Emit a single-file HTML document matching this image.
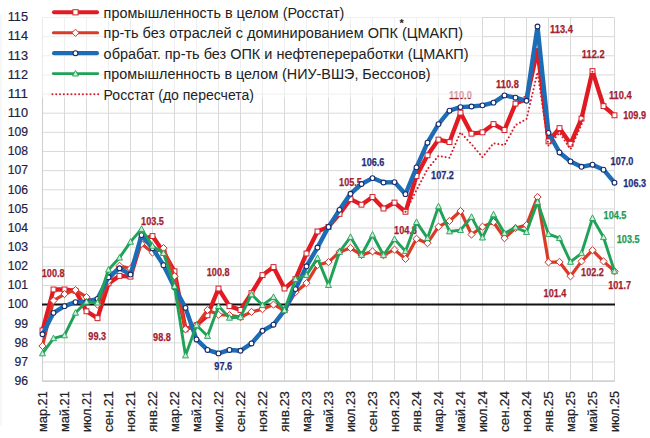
<!DOCTYPE html>
<html><head><meta charset="utf-8"><title>chart</title>
<style>html,body{margin:0;padding:0;background:#fff;}body{width:650px;height:438px;overflow:hidden;position:relative;font-family:"Liberation Sans",sans-serif;}</style></head>
<body>
<svg width="650" height="438" viewBox="0 0 650 438" style="position:absolute;left:0;top:0;font-family:'Liberation Sans',sans-serif">
<rect width="650" height="438" fill="#fff"/>
<path d="M42.5 381.16H614.5M42.5 362.02H614.5M42.5 342.88H614.5M42.5 323.74H614.5M42.5 304.60H614.5M42.5 285.46H614.5M42.5 266.32H614.5M42.5 247.18H614.5M42.5 228.04H614.5M42.5 208.90H614.5M42.5 189.76H614.5M42.5 170.62H614.5M42.5 151.48H614.5M42.5 132.34H614.5M42.5 113.20H614.5M42.5 94.06H614.5M42.5 74.92H614.5M42.5 55.78H614.5M42.5 36.64H614.5M42.5 17.50H614.5M42.50 17.50V381.16M64.50 17.50V381.16M86.50 17.50V381.16M108.50 17.50V381.16M130.50 17.50V381.16M152.50 17.50V381.16M174.50 17.50V381.16M196.50 17.50V381.16M218.50 17.50V381.16M240.50 17.50V381.16M262.50 17.50V381.16M284.50 17.50V381.16M306.50 17.50V381.16M328.50 17.50V381.16M350.50 17.50V381.16M372.50 17.50V381.16M394.50 17.50V381.16M416.50 17.50V381.16M438.50 17.50V381.16M460.50 17.50V381.16M482.50 17.50V381.16M504.50 17.50V381.16M526.50 17.50V381.16M548.50 17.50V381.16M570.50 17.50V381.16M592.50 17.50V381.16M614.50 17.50V381.16" stroke="#d9d9d9" stroke-width="1" fill="none"/>
<path d="M42.5 381.16H614.5" stroke="#c9c9c9" stroke-width="1.3" fill="none"/>
<path d="M42.5 17.50V381.16" stroke="#cfcfcf" stroke-width="1.1" fill="none"/>
<path d="M1 15V426" stroke="#efefef" stroke-width="1" fill="none"/>
<path d="M42.0 304.60H615.0" stroke="#111" stroke-width="2" fill="none"/>
<text x="28" y="384.96" text-anchor="end" font-size="13.3" fill="#1c2148" stroke="#1c2148" stroke-width="0.2" textLength="13.6" lengthAdjust="spacingAndGlyphs">96</text>
<text x="28" y="365.82" text-anchor="end" font-size="13.3" fill="#1c2148" stroke="#1c2148" stroke-width="0.2" textLength="13.6" lengthAdjust="spacingAndGlyphs">97</text>
<text x="28" y="346.68" text-anchor="end" font-size="13.3" fill="#1c2148" stroke="#1c2148" stroke-width="0.2" textLength="13.6" lengthAdjust="spacingAndGlyphs">98</text>
<text x="28" y="327.54" text-anchor="end" font-size="13.3" fill="#1c2148" stroke="#1c2148" stroke-width="0.2" textLength="13.6" lengthAdjust="spacingAndGlyphs">99</text>
<text x="28" y="308.40" text-anchor="end" font-size="13.3" fill="#1c2148" stroke="#1c2148" stroke-width="0.2" textLength="20.3" lengthAdjust="spacingAndGlyphs">100</text>
<text x="28" y="289.26" text-anchor="end" font-size="13.3" fill="#1c2148" stroke="#1c2148" stroke-width="0.2" textLength="20.3" lengthAdjust="spacingAndGlyphs">101</text>
<text x="28" y="270.12" text-anchor="end" font-size="13.3" fill="#1c2148" stroke="#1c2148" stroke-width="0.2" textLength="20.3" lengthAdjust="spacingAndGlyphs">102</text>
<text x="28" y="250.98" text-anchor="end" font-size="13.3" fill="#1c2148" stroke="#1c2148" stroke-width="0.2" textLength="20.3" lengthAdjust="spacingAndGlyphs">103</text>
<text x="28" y="231.84" text-anchor="end" font-size="13.3" fill="#1c2148" stroke="#1c2148" stroke-width="0.2" textLength="20.3" lengthAdjust="spacingAndGlyphs">104</text>
<text x="28" y="212.70" text-anchor="end" font-size="13.3" fill="#1c2148" stroke="#1c2148" stroke-width="0.2" textLength="20.3" lengthAdjust="spacingAndGlyphs">105</text>
<text x="28" y="193.56" text-anchor="end" font-size="13.3" fill="#1c2148" stroke="#1c2148" stroke-width="0.2" textLength="20.3" lengthAdjust="spacingAndGlyphs">106</text>
<text x="28" y="174.42" text-anchor="end" font-size="13.3" fill="#1c2148" stroke="#1c2148" stroke-width="0.2" textLength="20.3" lengthAdjust="spacingAndGlyphs">107</text>
<text x="28" y="155.28" text-anchor="end" font-size="13.3" fill="#1c2148" stroke="#1c2148" stroke-width="0.2" textLength="20.3" lengthAdjust="spacingAndGlyphs">108</text>
<text x="28" y="136.14" text-anchor="end" font-size="13.3" fill="#1c2148" stroke="#1c2148" stroke-width="0.2" textLength="20.3" lengthAdjust="spacingAndGlyphs">109</text>
<text x="28" y="117.00" text-anchor="end" font-size="13.3" fill="#1c2148" stroke="#1c2148" stroke-width="0.2" textLength="20.3" lengthAdjust="spacingAndGlyphs">110</text>
<text x="28" y="97.86" text-anchor="end" font-size="13.3" fill="#1c2148" stroke="#1c2148" stroke-width="0.2" textLength="20.3" lengthAdjust="spacingAndGlyphs">111</text>
<text x="28" y="78.72" text-anchor="end" font-size="13.3" fill="#1c2148" stroke="#1c2148" stroke-width="0.2" textLength="20.3" lengthAdjust="spacingAndGlyphs">112</text>
<text x="28" y="59.58" text-anchor="end" font-size="13.3" fill="#1c2148" stroke="#1c2148" stroke-width="0.2" textLength="20.3" lengthAdjust="spacingAndGlyphs">113</text>
<text x="28" y="40.44" text-anchor="end" font-size="13.3" fill="#1c2148" stroke="#1c2148" stroke-width="0.2" textLength="20.3" lengthAdjust="spacingAndGlyphs">114</text>
<text x="28" y="21.30" text-anchor="end" font-size="13.3" fill="#1c2148" stroke="#1c2148" stroke-width="0.2" textLength="20.3" lengthAdjust="spacingAndGlyphs">115</text>
<text transform="translate(47.10 432.1) rotate(-90)" font-size="12.6" fill="#222" stroke="#222" stroke-width="0.2" textLength="41" lengthAdjust="spacingAndGlyphs">мар.21</text>
<text transform="translate(69.10 432.1) rotate(-90)" font-size="12.6" fill="#222" stroke="#222" stroke-width="0.2" textLength="41" lengthAdjust="spacingAndGlyphs">май.21</text>
<text transform="translate(91.10 432.1) rotate(-90)" font-size="12.6" fill="#222" stroke="#222" stroke-width="0.2" textLength="41" lengthAdjust="spacingAndGlyphs">июл.21</text>
<text transform="translate(113.10 432.1) rotate(-90)" font-size="12.6" fill="#222" stroke="#222" stroke-width="0.2" textLength="41" lengthAdjust="spacingAndGlyphs">сен.21</text>
<text transform="translate(135.10 432.1) rotate(-90)" font-size="12.6" fill="#222" stroke="#222" stroke-width="0.2" textLength="41" lengthAdjust="spacingAndGlyphs">ноя.21</text>
<text transform="translate(157.10 432.1) rotate(-90)" font-size="12.6" fill="#222" stroke="#222" stroke-width="0.2" textLength="41" lengthAdjust="spacingAndGlyphs">янв.22</text>
<text transform="translate(179.10 432.1) rotate(-90)" font-size="12.6" fill="#222" stroke="#222" stroke-width="0.2" textLength="41" lengthAdjust="spacingAndGlyphs">мар.22</text>
<text transform="translate(201.10 432.1) rotate(-90)" font-size="12.6" fill="#222" stroke="#222" stroke-width="0.2" textLength="41" lengthAdjust="spacingAndGlyphs">май.22</text>
<text transform="translate(223.10 432.1) rotate(-90)" font-size="12.6" fill="#222" stroke="#222" stroke-width="0.2" textLength="41" lengthAdjust="spacingAndGlyphs">июл.22</text>
<text transform="translate(245.10 432.1) rotate(-90)" font-size="12.6" fill="#222" stroke="#222" stroke-width="0.2" textLength="41" lengthAdjust="spacingAndGlyphs">сен.22</text>
<text transform="translate(267.10 432.1) rotate(-90)" font-size="12.6" fill="#222" stroke="#222" stroke-width="0.2" textLength="41" lengthAdjust="spacingAndGlyphs">ноя.22</text>
<text transform="translate(289.10 432.1) rotate(-90)" font-size="12.6" fill="#222" stroke="#222" stroke-width="0.2" textLength="41" lengthAdjust="spacingAndGlyphs">янв.23</text>
<text transform="translate(311.10 432.1) rotate(-90)" font-size="12.6" fill="#222" stroke="#222" stroke-width="0.2" textLength="41" lengthAdjust="spacingAndGlyphs">мар.23</text>
<text transform="translate(333.10 432.1) rotate(-90)" font-size="12.6" fill="#222" stroke="#222" stroke-width="0.2" textLength="41" lengthAdjust="spacingAndGlyphs">май.23</text>
<text transform="translate(355.10 432.1) rotate(-90)" font-size="12.6" fill="#222" stroke="#222" stroke-width="0.2" textLength="41" lengthAdjust="spacingAndGlyphs">июл.23</text>
<text transform="translate(377.10 432.1) rotate(-90)" font-size="12.6" fill="#222" stroke="#222" stroke-width="0.2" textLength="41" lengthAdjust="spacingAndGlyphs">сен.23</text>
<text transform="translate(399.10 432.1) rotate(-90)" font-size="12.6" fill="#222" stroke="#222" stroke-width="0.2" textLength="41" lengthAdjust="spacingAndGlyphs">ноя.23</text>
<text transform="translate(421.10 432.1) rotate(-90)" font-size="12.6" fill="#222" stroke="#222" stroke-width="0.2" textLength="41" lengthAdjust="spacingAndGlyphs">янв.24</text>
<text transform="translate(443.10 432.1) rotate(-90)" font-size="12.6" fill="#222" stroke="#222" stroke-width="0.2" textLength="41" lengthAdjust="spacingAndGlyphs">мар.24</text>
<text transform="translate(465.10 432.1) rotate(-90)" font-size="12.6" fill="#222" stroke="#222" stroke-width="0.2" textLength="41" lengthAdjust="spacingAndGlyphs">май.24</text>
<text transform="translate(487.10 432.1) rotate(-90)" font-size="12.6" fill="#222" stroke="#222" stroke-width="0.2" textLength="41" lengthAdjust="spacingAndGlyphs">июл.24</text>
<text transform="translate(509.10 432.1) rotate(-90)" font-size="12.6" fill="#222" stroke="#222" stroke-width="0.2" textLength="41" lengthAdjust="spacingAndGlyphs">сен.24</text>
<text transform="translate(531.10 432.1) rotate(-90)" font-size="12.6" fill="#222" stroke="#222" stroke-width="0.2" textLength="41" lengthAdjust="spacingAndGlyphs">ноя.24</text>
<text transform="translate(553.10 432.1) rotate(-90)" font-size="12.6" fill="#222" stroke="#222" stroke-width="0.2" textLength="41" lengthAdjust="spacingAndGlyphs">янв.25</text>
<text transform="translate(575.10 432.1) rotate(-90)" font-size="12.6" fill="#222" stroke="#222" stroke-width="0.2" textLength="41" lengthAdjust="spacingAndGlyphs">мар.25</text>
<text transform="translate(597.10 432.1) rotate(-90)" font-size="12.6" fill="#222" stroke="#222" stroke-width="0.2" textLength="41" lengthAdjust="spacingAndGlyphs">май.25</text>
<text transform="translate(619.10 432.1) rotate(-90)" font-size="12.6" fill="#222" stroke="#222" stroke-width="0.2" textLength="41" lengthAdjust="spacingAndGlyphs">июл.25</text>
<polyline points="42.50,330.44 53.50,289.48 64.50,289.48 75.50,290.82 86.50,311.30 97.50,318.19 108.50,283.35 119.50,275.89 130.50,276.66 141.50,240.10 152.50,236.08 163.50,252.16 174.50,271.30 185.50,329.29 196.50,325.27 207.50,315.32 218.50,288.52 229.50,306.13 240.50,309.96 251.50,293.12 262.50,275.12 273.50,267.09 284.50,288.52 295.50,279.14 306.50,253.50 317.50,231.49 328.50,226.89 339.50,213.88 350.50,199.14 361.50,204.69 372.50,197.03 383.50,208.52 394.50,202.58 405.50,211.77 416.50,175.98 427.50,155.31 438.50,139.61 449.50,142.10 460.50,112.63 471.50,133.68 482.50,132.34 493.50,124.11 504.50,130.04 515.50,103.63 526.50,99.04 537.50,50.04 548.50,141.34 559.50,128.13 570.50,143.82 581.50,118.56 592.50,71.09 603.50,106.12 614.50,115.31" fill="none" stroke="#e21a22" stroke-width="4.3" stroke-linejoin="round" stroke-linecap="round"/>
<rect x="40.05" y="327.99" width="4.9" height="4.9" fill="#fff" stroke="#d0202a" stroke-width="1"/>
<rect x="51.05" y="287.03" width="4.9" height="4.9" fill="#fff" stroke="#d0202a" stroke-width="1"/>
<rect x="62.05" y="287.03" width="4.9" height="4.9" fill="#fff" stroke="#d0202a" stroke-width="1"/>
<rect x="73.05" y="288.37" width="4.9" height="4.9" fill="#fff" stroke="#d0202a" stroke-width="1"/>
<rect x="84.05" y="308.85" width="4.9" height="4.9" fill="#fff" stroke="#d0202a" stroke-width="1"/>
<rect x="95.05" y="315.74" width="4.9" height="4.9" fill="#fff" stroke="#d0202a" stroke-width="1"/>
<rect x="106.05" y="280.90" width="4.9" height="4.9" fill="#fff" stroke="#d0202a" stroke-width="1"/>
<rect x="117.05" y="273.44" width="4.9" height="4.9" fill="#fff" stroke="#d0202a" stroke-width="1"/>
<rect x="128.05" y="274.21" width="4.9" height="4.9" fill="#fff" stroke="#d0202a" stroke-width="1"/>
<rect x="139.05" y="237.65" width="4.9" height="4.9" fill="#fff" stroke="#d0202a" stroke-width="1"/>
<rect x="150.05" y="233.63" width="4.9" height="4.9" fill="#fff" stroke="#d0202a" stroke-width="1"/>
<rect x="161.05" y="249.71" width="4.9" height="4.9" fill="#fff" stroke="#d0202a" stroke-width="1"/>
<rect x="172.05" y="268.85" width="4.9" height="4.9" fill="#fff" stroke="#d0202a" stroke-width="1"/>
<rect x="183.05" y="326.84" width="4.9" height="4.9" fill="#fff" stroke="#d0202a" stroke-width="1"/>
<rect x="194.05" y="322.82" width="4.9" height="4.9" fill="#fff" stroke="#d0202a" stroke-width="1"/>
<rect x="205.05" y="312.87" width="4.9" height="4.9" fill="#fff" stroke="#d0202a" stroke-width="1"/>
<rect x="216.05" y="286.07" width="4.9" height="4.9" fill="#fff" stroke="#d0202a" stroke-width="1"/>
<rect x="227.05" y="303.68" width="4.9" height="4.9" fill="#fff" stroke="#d0202a" stroke-width="1"/>
<rect x="238.05" y="307.51" width="4.9" height="4.9" fill="#fff" stroke="#d0202a" stroke-width="1"/>
<rect x="249.05" y="290.67" width="4.9" height="4.9" fill="#fff" stroke="#d0202a" stroke-width="1"/>
<rect x="260.05" y="272.67" width="4.9" height="4.9" fill="#fff" stroke="#d0202a" stroke-width="1"/>
<rect x="271.05" y="264.64" width="4.9" height="4.9" fill="#fff" stroke="#d0202a" stroke-width="1"/>
<rect x="282.05" y="286.07" width="4.9" height="4.9" fill="#fff" stroke="#d0202a" stroke-width="1"/>
<rect x="293.05" y="276.69" width="4.9" height="4.9" fill="#fff" stroke="#d0202a" stroke-width="1"/>
<rect x="304.05" y="251.05" width="4.9" height="4.9" fill="#fff" stroke="#d0202a" stroke-width="1"/>
<rect x="315.05" y="229.04" width="4.9" height="4.9" fill="#fff" stroke="#d0202a" stroke-width="1"/>
<rect x="326.05" y="224.44" width="4.9" height="4.9" fill="#fff" stroke="#d0202a" stroke-width="1"/>
<rect x="337.05" y="211.43" width="4.9" height="4.9" fill="#fff" stroke="#d0202a" stroke-width="1"/>
<rect x="348.05" y="196.69" width="4.9" height="4.9" fill="#fff" stroke="#d0202a" stroke-width="1"/>
<rect x="359.05" y="202.24" width="4.9" height="4.9" fill="#fff" stroke="#d0202a" stroke-width="1"/>
<rect x="370.05" y="194.58" width="4.9" height="4.9" fill="#fff" stroke="#d0202a" stroke-width="1"/>
<rect x="381.05" y="206.07" width="4.9" height="4.9" fill="#fff" stroke="#d0202a" stroke-width="1"/>
<rect x="392.05" y="200.13" width="4.9" height="4.9" fill="#fff" stroke="#d0202a" stroke-width="1"/>
<rect x="403.05" y="209.32" width="4.9" height="4.9" fill="#fff" stroke="#d0202a" stroke-width="1"/>
<rect x="414.05" y="173.53" width="4.9" height="4.9" fill="#fff" stroke="#d0202a" stroke-width="1"/>
<rect x="425.05" y="152.86" width="4.9" height="4.9" fill="#fff" stroke="#d0202a" stroke-width="1"/>
<rect x="436.05" y="137.16" width="4.9" height="4.9" fill="#fff" stroke="#d0202a" stroke-width="1"/>
<rect x="447.05" y="139.65" width="4.9" height="4.9" fill="#fff" stroke="#d0202a" stroke-width="1"/>
<rect x="458.05" y="110.18" width="4.9" height="4.9" fill="#fff" stroke="#d0202a" stroke-width="1"/>
<rect x="469.05" y="131.23" width="4.9" height="4.9" fill="#fff" stroke="#d0202a" stroke-width="1"/>
<rect x="480.05" y="129.89" width="4.9" height="4.9" fill="#fff" stroke="#d0202a" stroke-width="1"/>
<rect x="491.05" y="121.66" width="4.9" height="4.9" fill="#fff" stroke="#d0202a" stroke-width="1"/>
<rect x="502.05" y="127.59" width="4.9" height="4.9" fill="#fff" stroke="#d0202a" stroke-width="1"/>
<rect x="513.05" y="101.18" width="4.9" height="4.9" fill="#fff" stroke="#d0202a" stroke-width="1"/>
<rect x="524.05" y="96.59" width="4.9" height="4.9" fill="#fff" stroke="#d0202a" stroke-width="1"/>
<rect x="546.05" y="138.89" width="4.9" height="4.9" fill="#fff" stroke="#d0202a" stroke-width="1"/>
<rect x="557.05" y="125.68" width="4.9" height="4.9" fill="#fff" stroke="#d0202a" stroke-width="1"/>
<rect x="568.05" y="141.37" width="4.9" height="4.9" fill="#fff" stroke="#d0202a" stroke-width="1"/>
<rect x="579.05" y="116.11" width="4.9" height="4.9" fill="#fff" stroke="#d0202a" stroke-width="1"/>
<rect x="590.05" y="68.64" width="4.9" height="4.9" fill="#fff" stroke="#d0202a" stroke-width="1"/>
<rect x="601.05" y="103.67" width="4.9" height="4.9" fill="#fff" stroke="#d0202a" stroke-width="1"/>
<rect x="612.05" y="112.86" width="4.9" height="4.9" fill="#fff" stroke="#d0202a" stroke-width="1"/>
<polyline points="42.50,345.94 53.50,300.58 64.50,294.07 75.50,290.05 86.50,297.14 97.50,304.60 108.50,280.68 119.50,265.75 130.50,268.62 141.50,243.73 152.50,252.54 163.50,248.14 174.50,276.27 185.50,329.29 196.50,325.27 207.50,309.96 218.50,314.74 229.50,315.13 240.50,317.23 251.50,311.87 262.50,309.19 273.50,304.60 284.50,310.34 295.50,292.16 306.50,283.16 317.50,264.98 328.50,262.11 339.50,251.97 350.50,247.95 361.50,255.03 372.50,251.39 383.50,255.22 394.50,249.67 405.50,258.86 416.50,238.76 427.50,243.16 438.50,226.70 449.50,220.96 460.50,211.01 471.50,234.55 482.50,226.70 493.50,222.11 504.50,238.18 515.50,228.04 526.50,225.17 537.50,197.03 548.50,262.30 559.50,261.92 570.50,276.27 581.50,261.34 592.50,250.24 603.50,261.34 614.50,271.30" fill="none" stroke="#db3a26" stroke-width="3.2" stroke-linejoin="round" stroke-linecap="round"/>
<path d="M42.50 342.34L46.10 345.94L42.50 349.54L38.90 345.94Z" fill="#fff" stroke="#c8342a" stroke-width="1"/>
<path d="M53.50 296.98L57.10 300.58L53.50 304.18L49.90 300.58Z" fill="#fff" stroke="#c8342a" stroke-width="1"/>
<path d="M64.50 290.47L68.10 294.07L64.50 297.67L60.90 294.07Z" fill="#fff" stroke="#c8342a" stroke-width="1"/>
<path d="M75.50 286.45L79.10 290.05L75.50 293.65L71.90 290.05Z" fill="#fff" stroke="#c8342a" stroke-width="1"/>
<path d="M86.50 293.54L90.10 297.14L86.50 300.74L82.90 297.14Z" fill="#fff" stroke="#c8342a" stroke-width="1"/>
<path d="M97.50 301.00L101.10 304.60L97.50 308.20L93.90 304.60Z" fill="#fff" stroke="#c8342a" stroke-width="1"/>
<path d="M108.50 277.07L112.10 280.68L108.50 284.28L104.90 280.68Z" fill="#fff" stroke="#c8342a" stroke-width="1"/>
<path d="M119.50 262.15L123.10 265.75L119.50 269.35L115.90 265.75Z" fill="#fff" stroke="#c8342a" stroke-width="1"/>
<path d="M130.50 265.02L134.10 268.62L130.50 272.22L126.90 268.62Z" fill="#fff" stroke="#c8342a" stroke-width="1"/>
<path d="M141.50 240.13L145.10 243.73L141.50 247.33L137.90 243.73Z" fill="#fff" stroke="#c8342a" stroke-width="1"/>
<path d="M152.50 248.94L156.10 252.54L152.50 256.14L148.90 252.54Z" fill="#fff" stroke="#c8342a" stroke-width="1"/>
<path d="M163.50 244.54L167.10 248.14L163.50 251.74L159.90 248.14Z" fill="#fff" stroke="#c8342a" stroke-width="1"/>
<path d="M174.50 272.67L178.10 276.27L174.50 279.87L170.90 276.27Z" fill="#fff" stroke="#c8342a" stroke-width="1"/>
<path d="M185.50 325.69L189.10 329.29L185.50 332.89L181.90 329.29Z" fill="#fff" stroke="#c8342a" stroke-width="1"/>
<path d="M196.50 321.67L200.10 325.27L196.50 328.87L192.90 325.27Z" fill="#fff" stroke="#c8342a" stroke-width="1"/>
<path d="M207.50 306.36L211.10 309.96L207.50 313.56L203.90 309.96Z" fill="#fff" stroke="#c8342a" stroke-width="1"/>
<path d="M218.50 311.14L222.10 314.74L218.50 318.34L214.90 314.74Z" fill="#fff" stroke="#c8342a" stroke-width="1"/>
<path d="M229.50 311.53L233.10 315.13L229.50 318.73L225.90 315.13Z" fill="#fff" stroke="#c8342a" stroke-width="1"/>
<path d="M240.50 313.63L244.10 317.23L240.50 320.83L236.90 317.23Z" fill="#fff" stroke="#c8342a" stroke-width="1"/>
<path d="M251.50 308.27L255.10 311.87L251.50 315.47L247.90 311.87Z" fill="#fff" stroke="#c8342a" stroke-width="1"/>
<path d="M262.50 305.59L266.10 309.19L262.50 312.79L258.90 309.19Z" fill="#fff" stroke="#c8342a" stroke-width="1"/>
<path d="M273.50 301.00L277.10 304.60L273.50 308.20L269.90 304.60Z" fill="#fff" stroke="#c8342a" stroke-width="1"/>
<path d="M284.50 306.74L288.10 310.34L284.50 313.94L280.90 310.34Z" fill="#fff" stroke="#c8342a" stroke-width="1"/>
<path d="M295.50 288.56L299.10 292.16L295.50 295.76L291.90 292.16Z" fill="#fff" stroke="#c8342a" stroke-width="1"/>
<path d="M306.50 279.56L310.10 283.16L306.50 286.76L302.90 283.16Z" fill="#fff" stroke="#c8342a" stroke-width="1"/>
<path d="M317.50 261.38L321.10 264.98L317.50 268.58L313.90 264.98Z" fill="#fff" stroke="#c8342a" stroke-width="1"/>
<path d="M328.50 258.51L332.10 262.11L328.50 265.71L324.90 262.11Z" fill="#fff" stroke="#c8342a" stroke-width="1"/>
<path d="M339.50 248.37L343.10 251.97L339.50 255.57L335.90 251.97Z" fill="#fff" stroke="#c8342a" stroke-width="1"/>
<path d="M350.50 244.35L354.10 247.95L350.50 251.55L346.90 247.95Z" fill="#fff" stroke="#c8342a" stroke-width="1"/>
<path d="M361.50 251.43L365.10 255.03L361.50 258.63L357.90 255.03Z" fill="#fff" stroke="#c8342a" stroke-width="1"/>
<path d="M372.50 247.79L376.10 251.39L372.50 254.99L368.90 251.39Z" fill="#fff" stroke="#c8342a" stroke-width="1"/>
<path d="M383.50 251.62L387.10 255.22L383.50 258.82L379.90 255.22Z" fill="#fff" stroke="#c8342a" stroke-width="1"/>
<path d="M394.50 246.07L398.10 249.67L394.50 253.27L390.90 249.67Z" fill="#fff" stroke="#c8342a" stroke-width="1"/>
<path d="M405.50 255.26L409.10 258.86L405.50 262.46L401.90 258.86Z" fill="#fff" stroke="#c8342a" stroke-width="1"/>
<path d="M416.50 235.16L420.10 238.76L416.50 242.36L412.90 238.76Z" fill="#fff" stroke="#c8342a" stroke-width="1"/>
<path d="M427.50 239.56L431.10 243.16L427.50 246.76L423.90 243.16Z" fill="#fff" stroke="#c8342a" stroke-width="1"/>
<path d="M438.50 223.10L442.10 226.70L438.50 230.30L434.90 226.70Z" fill="#fff" stroke="#c8342a" stroke-width="1"/>
<path d="M449.50 217.36L453.10 220.96L449.50 224.56L445.90 220.96Z" fill="#fff" stroke="#c8342a" stroke-width="1"/>
<path d="M460.50 207.41L464.10 211.01L460.50 214.61L456.90 211.01Z" fill="#fff" stroke="#c8342a" stroke-width="1"/>
<path d="M471.50 230.95L475.10 234.55L471.50 238.15L467.90 234.55Z" fill="#fff" stroke="#c8342a" stroke-width="1"/>
<path d="M482.50 223.10L486.10 226.70L482.50 230.30L478.90 226.70Z" fill="#fff" stroke="#c8342a" stroke-width="1"/>
<path d="M493.50 218.51L497.10 222.11L493.50 225.71L489.90 222.11Z" fill="#fff" stroke="#c8342a" stroke-width="1"/>
<path d="M504.50 234.58L508.10 238.18L504.50 241.78L500.90 238.18Z" fill="#fff" stroke="#c8342a" stroke-width="1"/>
<path d="M515.50 224.44L519.10 228.04L515.50 231.64L511.90 228.04Z" fill="#fff" stroke="#c8342a" stroke-width="1"/>
<path d="M526.50 221.57L530.10 225.17L526.50 228.77L522.90 225.17Z" fill="#fff" stroke="#c8342a" stroke-width="1"/>
<path d="M537.50 193.43L541.10 197.03L537.50 200.63L533.90 197.03Z" fill="#fff" stroke="#c8342a" stroke-width="1"/>
<path d="M548.50 258.70L552.10 262.30L548.50 265.90L544.90 262.30Z" fill="#fff" stroke="#c8342a" stroke-width="1"/>
<path d="M559.50 258.32L563.10 261.92L559.50 265.52L555.90 261.92Z" fill="#fff" stroke="#c8342a" stroke-width="1"/>
<path d="M570.50 272.67L574.10 276.27L570.50 279.87L566.90 276.27Z" fill="#fff" stroke="#c8342a" stroke-width="1"/>
<path d="M581.50 257.74L585.10 261.34L581.50 264.94L577.90 261.34Z" fill="#fff" stroke="#c8342a" stroke-width="1"/>
<path d="M592.50 246.64L596.10 250.24L592.50 253.84L588.90 250.24Z" fill="#fff" stroke="#c8342a" stroke-width="1"/>
<path d="M603.50 257.74L607.10 261.34L603.50 264.94L599.90 261.34Z" fill="#fff" stroke="#c8342a" stroke-width="1"/>
<path d="M614.50 267.70L618.10 271.30L614.50 274.90L610.90 271.30Z" fill="#fff" stroke="#c8342a" stroke-width="1"/>
<text x="41.80" y="276.90" font-size="10.8" font-weight="bold" fill="#a41c30" stroke="#a41c30" stroke-width="0.25" textLength="22.8" lengthAdjust="spacingAndGlyphs">100.8</text>
<text x="88.30" y="340.40" font-size="10.8" font-weight="bold" fill="#a41c30" stroke="#a41c30" stroke-width="0.25" textLength="17.8" lengthAdjust="spacingAndGlyphs">99.3</text>
<text x="141.10" y="224.90" font-size="10.8" font-weight="bold" fill="#a41c30" stroke="#a41c30" stroke-width="0.25" textLength="22.8" lengthAdjust="spacingAndGlyphs">103.5</text>
<text x="153.10" y="341.40" font-size="10.8" font-weight="bold" fill="#a41c30" stroke="#a41c30" stroke-width="0.25" textLength="17.8" lengthAdjust="spacingAndGlyphs">98.8</text>
<text x="206.80" y="275.90" font-size="10.8" font-weight="bold" fill="#a41c30" stroke="#a41c30" stroke-width="0.25" textLength="22.8" lengthAdjust="spacingAndGlyphs">100.8</text>
<text x="339.10" y="186.20" font-size="10.8" font-weight="bold" fill="#a41c30" stroke="#a41c30" stroke-width="0.25" textLength="22.8" lengthAdjust="spacingAndGlyphs">105.5</text>
<text x="394.10" y="233.90" font-size="10.8" font-weight="bold" fill="#a41c30" stroke="#a41c30" stroke-width="0.25" textLength="22.8" lengthAdjust="spacingAndGlyphs">104.8</text>
<text x="449.10" y="99.40" font-size="10.8" font-weight="bold" fill="#a41c30" stroke="#a41c30" stroke-width="0.25" textLength="22.8" lengthAdjust="spacingAndGlyphs">110.0</text>
<text x="496.10" y="87.90" font-size="10.8" font-weight="bold" fill="#a41c30" stroke="#a41c30" stroke-width="0.25" textLength="22.8" lengthAdjust="spacingAndGlyphs">110.8</text>
<text x="550.10" y="33.20" font-size="10.8" font-weight="bold" fill="#a41c30" stroke="#a41c30" stroke-width="0.25" textLength="22.8" lengthAdjust="spacingAndGlyphs">113.4</text>
<text x="581.80" y="58.00" font-size="10.8" font-weight="bold" fill="#a41c30" stroke="#a41c30" stroke-width="0.25" textLength="22.8" lengthAdjust="spacingAndGlyphs">112.2</text>
<text x="608.90" y="98.90" font-size="10.8" font-weight="bold" fill="#a41c30" stroke="#a41c30" stroke-width="0.25" textLength="22.8" lengthAdjust="spacingAndGlyphs">110.4</text>
<text x="623.20" y="119.00" font-size="10.8" font-weight="bold" fill="#a41c30" stroke="#a41c30" stroke-width="0.25" textLength="22.8" lengthAdjust="spacingAndGlyphs">109.9</text>
<text x="543.60" y="297.10" font-size="10.8" font-weight="bold" fill="#a41c30" stroke="#a41c30" stroke-width="0.25" textLength="22.8" lengthAdjust="spacingAndGlyphs">101.4</text>
<text x="581.10" y="275.90" font-size="10.8" font-weight="bold" fill="#a41c30" stroke="#a41c30" stroke-width="0.25" textLength="22.8" lengthAdjust="spacingAndGlyphs">102.2</text>
<text x="608.20" y="289.20" font-size="10.8" font-weight="bold" fill="#a41c30" stroke="#a41c30" stroke-width="0.25" textLength="22.8" lengthAdjust="spacingAndGlyphs">101.7</text>
<polyline points="42.50,334.27 53.50,312.83 64.50,306.13 75.50,302.11 86.50,301.73 97.50,298.86 108.50,277.23 119.50,268.23 130.50,274.55 141.50,235.12 152.50,248.14 163.50,265.17 174.50,287.37 185.50,307.85 196.50,339.43 207.50,349.96 218.50,353.41 229.50,349.96 240.50,350.73 251.50,343.45 262.50,330.82 273.50,324.70 284.50,310.34 295.50,289.10 306.50,266.32 317.50,247.56 328.50,226.89 339.50,209.86 350.50,193.78 361.50,184.02 372.50,178.08 383.50,182.49 394.50,182.10 405.50,194.16 416.50,167.37 427.50,142.68 438.50,124.11 449.50,110.71 460.50,107.08 471.50,106.50 482.50,105.35 493.50,102.67 504.50,95.40 515.50,97.70 526.50,100.76 537.50,26.50 548.50,132.91 559.50,152.44 570.50,161.43 581.50,166.79 592.50,164.69 603.50,169.66 614.50,182.68" fill="none" stroke="#1c6cb6" stroke-width="4.4" stroke-linejoin="round" stroke-linecap="round"/>
<circle cx="42.50" cy="334.27" r="2.4" fill="#fff" stroke="#1b2a6b" stroke-width="1.1"/>
<circle cx="53.50" cy="312.83" r="2.4" fill="#fff" stroke="#1b2a6b" stroke-width="1.1"/>
<circle cx="64.50" cy="306.13" r="2.4" fill="#fff" stroke="#1b2a6b" stroke-width="1.1"/>
<circle cx="75.50" cy="302.11" r="2.4" fill="#fff" stroke="#1b2a6b" stroke-width="1.1"/>
<circle cx="86.50" cy="301.73" r="2.4" fill="#fff" stroke="#1b2a6b" stroke-width="1.1"/>
<circle cx="97.50" cy="298.86" r="2.4" fill="#fff" stroke="#1b2a6b" stroke-width="1.1"/>
<circle cx="108.50" cy="277.23" r="2.4" fill="#fff" stroke="#1b2a6b" stroke-width="1.1"/>
<circle cx="119.50" cy="268.23" r="2.4" fill="#fff" stroke="#1b2a6b" stroke-width="1.1"/>
<circle cx="130.50" cy="274.55" r="2.4" fill="#fff" stroke="#1b2a6b" stroke-width="1.1"/>
<circle cx="141.50" cy="235.12" r="2.4" fill="#fff" stroke="#1b2a6b" stroke-width="1.1"/>
<circle cx="152.50" cy="248.14" r="2.4" fill="#fff" stroke="#1b2a6b" stroke-width="1.1"/>
<circle cx="163.50" cy="265.17" r="2.4" fill="#fff" stroke="#1b2a6b" stroke-width="1.1"/>
<circle cx="174.50" cy="287.37" r="2.4" fill="#fff" stroke="#1b2a6b" stroke-width="1.1"/>
<circle cx="185.50" cy="307.85" r="2.4" fill="#fff" stroke="#1b2a6b" stroke-width="1.1"/>
<circle cx="196.50" cy="339.43" r="2.4" fill="#fff" stroke="#1b2a6b" stroke-width="1.1"/>
<circle cx="207.50" cy="349.96" r="2.4" fill="#fff" stroke="#1b2a6b" stroke-width="1.1"/>
<circle cx="218.50" cy="353.41" r="2.4" fill="#fff" stroke="#1b2a6b" stroke-width="1.1"/>
<circle cx="229.50" cy="349.96" r="2.4" fill="#fff" stroke="#1b2a6b" stroke-width="1.1"/>
<circle cx="240.50" cy="350.73" r="2.4" fill="#fff" stroke="#1b2a6b" stroke-width="1.1"/>
<circle cx="251.50" cy="343.45" r="2.4" fill="#fff" stroke="#1b2a6b" stroke-width="1.1"/>
<circle cx="262.50" cy="330.82" r="2.4" fill="#fff" stroke="#1b2a6b" stroke-width="1.1"/>
<circle cx="273.50" cy="324.70" r="2.4" fill="#fff" stroke="#1b2a6b" stroke-width="1.1"/>
<circle cx="284.50" cy="310.34" r="2.4" fill="#fff" stroke="#1b2a6b" stroke-width="1.1"/>
<circle cx="295.50" cy="289.10" r="2.4" fill="#fff" stroke="#1b2a6b" stroke-width="1.1"/>
<circle cx="306.50" cy="266.32" r="2.4" fill="#fff" stroke="#1b2a6b" stroke-width="1.1"/>
<circle cx="317.50" cy="247.56" r="2.4" fill="#fff" stroke="#1b2a6b" stroke-width="1.1"/>
<circle cx="328.50" cy="226.89" r="2.4" fill="#fff" stroke="#1b2a6b" stroke-width="1.1"/>
<circle cx="339.50" cy="209.86" r="2.4" fill="#fff" stroke="#1b2a6b" stroke-width="1.1"/>
<circle cx="350.50" cy="193.78" r="2.4" fill="#fff" stroke="#1b2a6b" stroke-width="1.1"/>
<circle cx="361.50" cy="184.02" r="2.4" fill="#fff" stroke="#1b2a6b" stroke-width="1.1"/>
<circle cx="372.50" cy="178.08" r="2.4" fill="#fff" stroke="#1b2a6b" stroke-width="1.1"/>
<circle cx="383.50" cy="182.49" r="2.4" fill="#fff" stroke="#1b2a6b" stroke-width="1.1"/>
<circle cx="394.50" cy="182.10" r="2.4" fill="#fff" stroke="#1b2a6b" stroke-width="1.1"/>
<circle cx="405.50" cy="194.16" r="2.4" fill="#fff" stroke="#1b2a6b" stroke-width="1.1"/>
<circle cx="416.50" cy="167.37" r="2.4" fill="#fff" stroke="#1b2a6b" stroke-width="1.1"/>
<circle cx="427.50" cy="142.68" r="2.4" fill="#fff" stroke="#1b2a6b" stroke-width="1.1"/>
<circle cx="438.50" cy="124.11" r="2.4" fill="#fff" stroke="#1b2a6b" stroke-width="1.1"/>
<circle cx="449.50" cy="110.71" r="2.4" fill="#fff" stroke="#1b2a6b" stroke-width="1.1"/>
<circle cx="460.50" cy="107.08" r="2.4" fill="#fff" stroke="#1b2a6b" stroke-width="1.1"/>
<circle cx="471.50" cy="106.50" r="2.4" fill="#fff" stroke="#1b2a6b" stroke-width="1.1"/>
<circle cx="482.50" cy="105.35" r="2.4" fill="#fff" stroke="#1b2a6b" stroke-width="1.1"/>
<circle cx="493.50" cy="102.67" r="2.4" fill="#fff" stroke="#1b2a6b" stroke-width="1.1"/>
<circle cx="504.50" cy="95.40" r="2.4" fill="#fff" stroke="#1b2a6b" stroke-width="1.1"/>
<circle cx="515.50" cy="97.70" r="2.4" fill="#fff" stroke="#1b2a6b" stroke-width="1.1"/>
<circle cx="526.50" cy="100.76" r="2.4" fill="#fff" stroke="#1b2a6b" stroke-width="1.1"/>
<circle cx="537.50" cy="26.50" r="2.4" fill="#fff" stroke="#1b2a6b" stroke-width="1.1"/>
<circle cx="548.50" cy="132.91" r="2.4" fill="#fff" stroke="#1b2a6b" stroke-width="1.1"/>
<circle cx="559.50" cy="152.44" r="2.4" fill="#fff" stroke="#1b2a6b" stroke-width="1.1"/>
<circle cx="570.50" cy="161.43" r="2.4" fill="#fff" stroke="#1b2a6b" stroke-width="1.1"/>
<circle cx="581.50" cy="166.79" r="2.4" fill="#fff" stroke="#1b2a6b" stroke-width="1.1"/>
<circle cx="592.50" cy="164.69" r="2.4" fill="#fff" stroke="#1b2a6b" stroke-width="1.1"/>
<circle cx="603.50" cy="169.66" r="2.4" fill="#fff" stroke="#1b2a6b" stroke-width="1.1"/>
<circle cx="614.50" cy="182.68" r="2.4" fill="#fff" stroke="#1b2a6b" stroke-width="1.1"/>
<text x="214.30" y="369.90" font-size="10.8" font-weight="bold" fill="#1f2d7a" stroke="#1f2d7a" stroke-width="0.25" textLength="17.8" lengthAdjust="spacingAndGlyphs">97.6</text>
<text x="361.60" y="165.90" font-size="10.8" font-weight="bold" fill="#1f2d7a" stroke="#1f2d7a" stroke-width="0.25" textLength="22.8" lengthAdjust="spacingAndGlyphs">106.6</text>
<text x="431.10" y="178.90" font-size="10.8" font-weight="bold" fill="#1f2d7a" stroke="#1f2d7a" stroke-width="0.25" textLength="22.8" lengthAdjust="spacingAndGlyphs">107.2</text>
<text x="610.60" y="165.40" font-size="10.8" font-weight="bold" fill="#1f2d7a" stroke="#1f2d7a" stroke-width="0.25" textLength="22.8" lengthAdjust="spacingAndGlyphs">107.0</text>
<text x="623.30" y="186.50" font-size="10.8" font-weight="bold" fill="#1f2d7a" stroke="#1f2d7a" stroke-width="0.25" textLength="22.8" lengthAdjust="spacingAndGlyphs">106.3</text>
<polyline points="42.50,353.41 53.50,338.29 64.50,335.42 75.50,312.83 86.50,301.73 97.50,302.69 108.50,269.77 119.50,257.71 130.50,241.82 141.50,229.00 152.50,245.84 163.50,253.11 174.50,286.23 185.50,355.51 196.50,325.27 207.50,335.99 218.50,306.13 229.50,317.81 240.50,317.23 251.50,294.46 262.50,305.17 273.50,297.14 284.50,310.34 295.50,279.14 306.50,275.12 317.50,258.09 328.50,285.08 339.50,251.97 350.50,237.04 361.50,255.03 372.50,234.74 383.50,255.22 394.50,239.14 405.50,251.20 416.50,222.11 427.50,238.18 438.50,206.41 449.50,231.49 460.50,230.15 471.50,216.94 482.50,237.61 493.50,214.45 504.50,233.21 515.50,227.47 526.50,232.06 537.50,202.01 548.50,234.16 559.50,238.18 570.50,261.92 581.50,253.30 592.50,218.09 603.50,237.23 614.50,271.30" fill="none" stroke="#1fa257" stroke-width="2.9" stroke-linejoin="round" stroke-linecap="round"/>
<path d="M42.50 350.21L45.50 355.81L39.50 355.81Z" fill="#c9ecd6" stroke="#1fa257" stroke-width="0.9"/>
<path d="M53.50 335.09L56.50 340.69L50.50 340.69Z" fill="#c9ecd6" stroke="#1fa257" stroke-width="0.9"/>
<path d="M64.50 332.22L67.50 337.82L61.50 337.82Z" fill="#c9ecd6" stroke="#1fa257" stroke-width="0.9"/>
<path d="M75.50 309.63L78.50 315.23L72.50 315.23Z" fill="#c9ecd6" stroke="#1fa257" stroke-width="0.9"/>
<path d="M86.50 298.53L89.50 304.13L83.50 304.13Z" fill="#c9ecd6" stroke="#1fa257" stroke-width="0.9"/>
<path d="M97.50 299.49L100.50 305.09L94.50 305.09Z" fill="#c9ecd6" stroke="#1fa257" stroke-width="0.9"/>
<path d="M108.50 266.57L111.50 272.17L105.50 272.17Z" fill="#c9ecd6" stroke="#1fa257" stroke-width="0.9"/>
<path d="M119.50 254.51L122.50 260.11L116.50 260.11Z" fill="#c9ecd6" stroke="#1fa257" stroke-width="0.9"/>
<path d="M130.50 238.62L133.50 244.22L127.50 244.22Z" fill="#c9ecd6" stroke="#1fa257" stroke-width="0.9"/>
<path d="M141.50 225.80L144.50 231.40L138.50 231.40Z" fill="#c9ecd6" stroke="#1fa257" stroke-width="0.9"/>
<path d="M152.50 242.64L155.50 248.24L149.50 248.24Z" fill="#c9ecd6" stroke="#1fa257" stroke-width="0.9"/>
<path d="M163.50 249.91L166.50 255.51L160.50 255.51Z" fill="#c9ecd6" stroke="#1fa257" stroke-width="0.9"/>
<path d="M174.50 283.03L177.50 288.63L171.50 288.63Z" fill="#c9ecd6" stroke="#1fa257" stroke-width="0.9"/>
<path d="M185.50 352.31L188.50 357.91L182.50 357.91Z" fill="#c9ecd6" stroke="#1fa257" stroke-width="0.9"/>
<path d="M196.50 322.07L199.50 327.67L193.50 327.67Z" fill="#c9ecd6" stroke="#1fa257" stroke-width="0.9"/>
<path d="M207.50 332.79L210.50 338.39L204.50 338.39Z" fill="#c9ecd6" stroke="#1fa257" stroke-width="0.9"/>
<path d="M218.50 302.93L221.50 308.53L215.50 308.53Z" fill="#c9ecd6" stroke="#1fa257" stroke-width="0.9"/>
<path d="M229.50 314.61L232.50 320.21L226.50 320.21Z" fill="#c9ecd6" stroke="#1fa257" stroke-width="0.9"/>
<path d="M240.50 314.03L243.50 319.63L237.50 319.63Z" fill="#c9ecd6" stroke="#1fa257" stroke-width="0.9"/>
<path d="M251.50 291.26L254.50 296.86L248.50 296.86Z" fill="#c9ecd6" stroke="#1fa257" stroke-width="0.9"/>
<path d="M262.50 301.97L265.50 307.57L259.50 307.57Z" fill="#c9ecd6" stroke="#1fa257" stroke-width="0.9"/>
<path d="M273.50 293.94L276.50 299.54L270.50 299.54Z" fill="#c9ecd6" stroke="#1fa257" stroke-width="0.9"/>
<path d="M284.50 307.14L287.50 312.74L281.50 312.74Z" fill="#c9ecd6" stroke="#1fa257" stroke-width="0.9"/>
<path d="M295.50 275.94L298.50 281.54L292.50 281.54Z" fill="#c9ecd6" stroke="#1fa257" stroke-width="0.9"/>
<path d="M306.50 271.92L309.50 277.52L303.50 277.52Z" fill="#c9ecd6" stroke="#1fa257" stroke-width="0.9"/>
<path d="M317.50 254.89L320.50 260.49L314.50 260.49Z" fill="#c9ecd6" stroke="#1fa257" stroke-width="0.9"/>
<path d="M328.50 281.88L331.50 287.48L325.50 287.48Z" fill="#c9ecd6" stroke="#1fa257" stroke-width="0.9"/>
<path d="M339.50 248.77L342.50 254.37L336.50 254.37Z" fill="#c9ecd6" stroke="#1fa257" stroke-width="0.9"/>
<path d="M350.50 233.84L353.50 239.44L347.50 239.44Z" fill="#c9ecd6" stroke="#1fa257" stroke-width="0.9"/>
<path d="M361.50 251.83L364.50 257.43L358.50 257.43Z" fill="#c9ecd6" stroke="#1fa257" stroke-width="0.9"/>
<path d="M372.50 231.54L375.50 237.14L369.50 237.14Z" fill="#c9ecd6" stroke="#1fa257" stroke-width="0.9"/>
<path d="M383.50 252.02L386.50 257.62L380.50 257.62Z" fill="#c9ecd6" stroke="#1fa257" stroke-width="0.9"/>
<path d="M394.50 235.94L397.50 241.54L391.50 241.54Z" fill="#c9ecd6" stroke="#1fa257" stroke-width="0.9"/>
<path d="M405.50 248.00L408.50 253.60L402.50 253.60Z" fill="#c9ecd6" stroke="#1fa257" stroke-width="0.9"/>
<path d="M416.50 218.91L419.50 224.51L413.50 224.51Z" fill="#c9ecd6" stroke="#1fa257" stroke-width="0.9"/>
<path d="M427.50 234.98L430.50 240.58L424.50 240.58Z" fill="#c9ecd6" stroke="#1fa257" stroke-width="0.9"/>
<path d="M438.50 203.21L441.50 208.81L435.50 208.81Z" fill="#c9ecd6" stroke="#1fa257" stroke-width="0.9"/>
<path d="M449.50 228.29L452.50 233.89L446.50 233.89Z" fill="#c9ecd6" stroke="#1fa257" stroke-width="0.9"/>
<path d="M460.50 226.95L463.50 232.55L457.50 232.55Z" fill="#c9ecd6" stroke="#1fa257" stroke-width="0.9"/>
<path d="M471.50 213.74L474.50 219.34L468.50 219.34Z" fill="#c9ecd6" stroke="#1fa257" stroke-width="0.9"/>
<path d="M482.50 234.41L485.50 240.01L479.50 240.01Z" fill="#c9ecd6" stroke="#1fa257" stroke-width="0.9"/>
<path d="M493.50 211.25L496.50 216.85L490.50 216.85Z" fill="#c9ecd6" stroke="#1fa257" stroke-width="0.9"/>
<path d="M504.50 230.01L507.50 235.61L501.50 235.61Z" fill="#c9ecd6" stroke="#1fa257" stroke-width="0.9"/>
<path d="M515.50 224.27L518.50 229.87L512.50 229.87Z" fill="#c9ecd6" stroke="#1fa257" stroke-width="0.9"/>
<path d="M526.50 228.86L529.50 234.46L523.50 234.46Z" fill="#c9ecd6" stroke="#1fa257" stroke-width="0.9"/>
<path d="M537.50 198.81L540.50 204.41L534.50 204.41Z" fill="#c9ecd6" stroke="#1fa257" stroke-width="0.9"/>
<path d="M548.50 230.96L551.50 236.56L545.50 236.56Z" fill="#c9ecd6" stroke="#1fa257" stroke-width="0.9"/>
<path d="M559.50 234.98L562.50 240.58L556.50 240.58Z" fill="#c9ecd6" stroke="#1fa257" stroke-width="0.9"/>
<path d="M570.50 258.72L573.50 264.32L567.50 264.32Z" fill="#c9ecd6" stroke="#1fa257" stroke-width="0.9"/>
<path d="M581.50 250.10L584.50 255.70L578.50 255.70Z" fill="#c9ecd6" stroke="#1fa257" stroke-width="0.9"/>
<path d="M592.50 214.89L595.50 220.49L589.50 220.49Z" fill="#c9ecd6" stroke="#1fa257" stroke-width="0.9"/>
<path d="M603.50 234.03L606.50 239.63L600.50 239.63Z" fill="#c9ecd6" stroke="#1fa257" stroke-width="0.9"/>
<path d="M614.50 268.10L617.50 273.70L611.50 273.70Z" fill="#c9ecd6" stroke="#1fa257" stroke-width="0.9"/>
<text x="603.60" y="218.90" font-size="10.8" font-weight="bold" fill="#1f9a55" stroke="#1f9a55" stroke-width="0.25" textLength="22.8" lengthAdjust="spacingAndGlyphs">104.5</text>
<text x="616.80" y="243.20" font-size="10.8" font-weight="bold" fill="#1f9a55" stroke="#1f9a55" stroke-width="0.25" textLength="22.8" lengthAdjust="spacingAndGlyphs">103.5</text>
<polyline points="405.50,211.77 416.50,190.14 427.50,169.09 438.50,155.88 449.50,157.80 460.50,132.34 471.50,144.21 482.50,157.22 493.50,143.25 504.50,145.16 515.50,125.07 526.50,119.13 537.50,72.24 548.50,145.74 559.50,132.72 570.50,149.18 581.50,124.68 592.50,71.09 603.50,101.33" fill="none" stroke="#d81a2a" stroke-width="2" stroke-dasharray="0.01 3.8" stroke-linecap="round" stroke-linejoin="round"/>
<rect x="36" y="0" width="446" height="98" fill="#fff" fill-opacity="0.58"/>
<path d="M54.0 12.3H97.0" stroke="#e21a22" stroke-width="4.0" stroke-linecap="round"/>
<rect x="72.9" y="9.700000000000001" width="5.2" height="5.2" fill="#fff" stroke="#d0202a" stroke-width="1"/>
<path d="M53.4 32.8H97.60000000000001" stroke="#db3a26" stroke-width="3.0" stroke-linecap="round"/>
<path d="M75.5 29.199999999999996L79.1 32.8L75.5 36.4L71.9 32.8Z" fill="#fff" stroke="#c8342a" stroke-width="1"/>
<path d="M54.099999999999994 53.2H96.9" stroke="#1c6cb6" stroke-width="4.2" stroke-linecap="round"/>
<circle cx="75.5" cy="53.2" r="2.4" fill="#fff" stroke="#1b2a6b" stroke-width="1.1"/>
<path d="M53.199999999999996 73.6H97.8" stroke="#1fa257" stroke-width="2.7" stroke-linecap="round"/>
<path d="M75.5 70.39999999999999L78.5 76.0L72.5 76.0Z" fill="#c9ecd6" stroke="#1fa257" stroke-width="0.9"/>
<path d="M52.4 94.2H98.2" stroke="#d81a2a" stroke-width="2" stroke-dasharray="0.01 3.8" stroke-linecap="round"/>
<text x="103.6" y="17.60" font-size="13.8" fill="#222" textLength="240.8" lengthAdjust="spacingAndGlyphs">промышленность в целом (Росстат)</text>
<text x="103.6" y="38.10" font-size="13.8" fill="#222" textLength="359.4" lengthAdjust="spacingAndGlyphs">пр-ть без отраслей с доминированием ОПК (ЦМАКП)</text>
<text x="103.6" y="58.50" font-size="13.8" fill="#222" textLength="365" lengthAdjust="spacingAndGlyphs">обрабат. пр-ть без ОПК и нефтепереработки (ЦМАКП)</text>
<text x="103.6" y="78.90" font-size="13.8" fill="#222" textLength="327" lengthAdjust="spacingAndGlyphs">промышленность в целом (НИУ-ВШЭ, Бессонов)</text>
<text x="103.6" y="99.50" font-size="13.8" fill="#222" textLength="150.4" lengthAdjust="spacingAndGlyphs">Росстат (до пересчета)</text>
<text x="399.6" y="27" font-size="11" font-weight="bold" fill="#222">*</text>
</svg>
</body></html>
